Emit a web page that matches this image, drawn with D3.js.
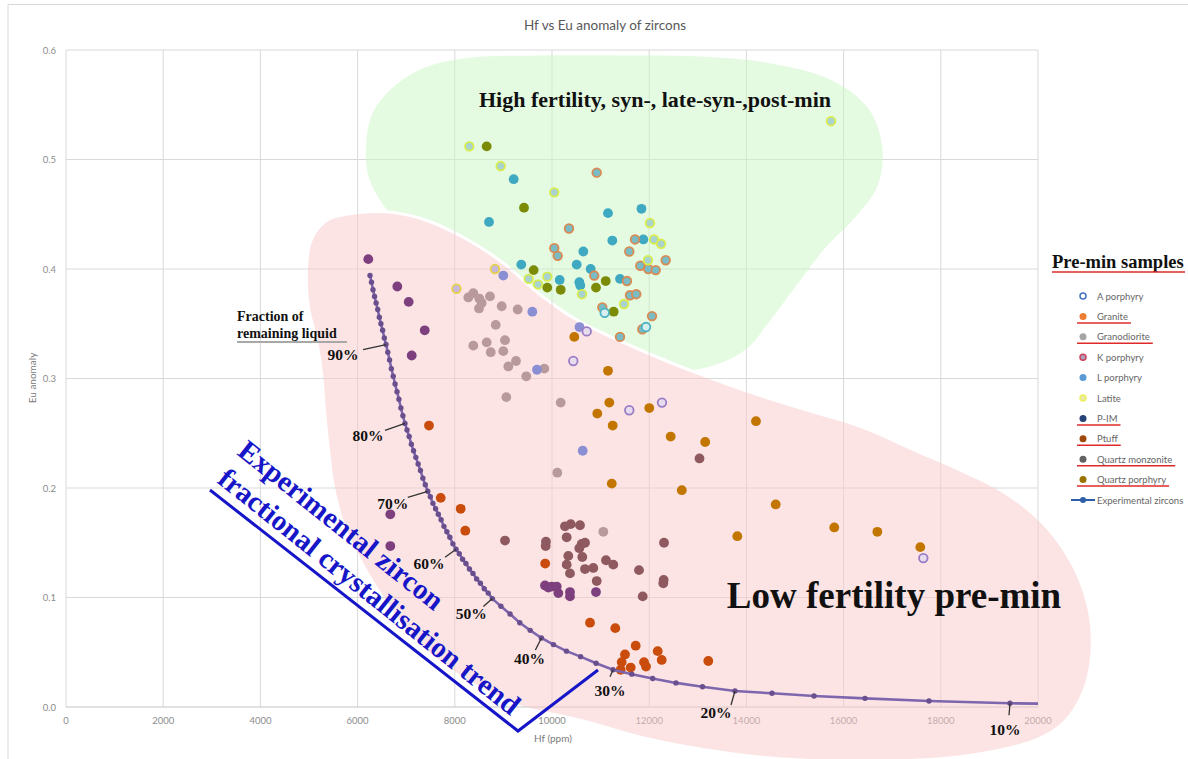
<!DOCTYPE html>
<html>
<head>
<meta charset="utf-8">
<script src="https://cdn.jsdelivr.net/npm/d3@7"></script>
<style>
  body { margin: 0; background: #fff; }
  svg { display: block; }
</style>
</head>
<body>
<svg id="chart" width="1188" height="759"></svg>
<script>
// ---------------- axes ----------------
const xTicks = [0, 2000, 4000, 6000, 8000, 10000, 12000, 14000, 16000, 18000, 20000];
const yTicks = [0, 0.1, 0.2, 0.3, 0.4, 0.5, 0.6];

// ---------------- zircon analyses: Hf (ppm) and Eu anomaly ----------------
// high-fertility field (syn-, late-syn-, post-mineralisation)
const latiteSynHf = [8298, 8944, 10047, 12016, 12099, 12243, 11975, 9520, 9903, 9712, 10617, 11481, 15741];
const latiteSynEu = [0.512, 0.494, 0.470, 0.442, 0.427, 0.423, 0.408, 0.391, 0.393, 0.386, 0.377, 0.368, 0.535];

const lPorphyrySynHf = [9212, 8704, 11152, 11841, 11241, 11879, 10644, 9368, 10508, 10158, 10796, 10562, 10582, 11399];
const lPorphyrySynEu = [0.482, 0.443, 0.451, 0.455, 0.426, 0.427, 0.416, 0.404, 0.404, 0.390, 0.400, 0.388, 0.385, 0.391];

const kPorphyryHf = [10920, 10350, 11708, 10047, 10117, 11590, 12339, 11817, 11981, 12134, 10870, 11543, 11605, 11734, 11035, 12058, 11858, 11399];
const kPorphyryEu = [0.488, 0.437, 0.427, 0.419, 0.412, 0.416, 0.408, 0.403, 0.400, 0.399, 0.394, 0.389, 0.376, 0.377, 0.365, 0.357, 0.345, 0.338];

const aPorphyrySynHf = [11084, 11934];
const aPorphyrySynEu = [0.360, 0.347];

const qPorphyrySynHf = [8656, 9424, 9623, 9903, 10179, 11105, 10905, 11269];
const qPorphyrySynEu = [0.512, 0.456, 0.399, 0.383, 0.381, 0.389, 0.383, 0.361];

// low-fertility field (pre-mineralisation)
const latitePreHf = [8827, 8035];
const latitePreEu = [0.400, 0.382];

const lPorphyryPreHf = [8998, 9595, 9691, 10632, 10566];
const lPorphyryPreEu = [0.394, 0.361, 0.308, 0.234, 0.347];

const aPorphyryPreHf = [10714, 10438, 11590, 12263, 17640];
const aPorphyryPreEu = [0.343, 0.316, 0.271, 0.278, 0.136];

const qPorphyryPreHf = [10459, 11152, 11179, 10932, 12002, 11249, 12442, 13152, 14197, 11230, 12671, 14603, 13813, 15808, 16694, 17578];
const qPorphyryPreEu = [0.338, 0.307, 0.278, 0.268, 0.273, 0.257, 0.247, 0.242, 0.261, 0.204, 0.198, 0.185, 0.156, 0.164, 0.160, 0.146];

const qMonzoniteHf = [13035, 9033, 10267, 10385, 10576, 10302, 9876, 9870, 10611, 10679, 10562, 10335, 10623, 10302, 10370, 10679, 10850, 11111, 11261, 10920, 11790, 12305, 12290, 12298, 11866];
const qMonzoniteEu = [0.227, 0.152, 0.165, 0.167, 0.166, 0.155, 0.151, 0.147, 0.149, 0.150, 0.145, 0.138, 0.137, 0.130, 0.122, 0.126, 0.127, 0.134, 0.130, 0.115, 0.125, 0.150, 0.113, 0.116, 0.101];

const pimHf = [6220, 6817, 7051, 7381, 7113, 6673, 6673, 9856, 9994, 10097, 10130, 9924, 10370, 10370, 10905];
const pimEu = [0.409, 0.384, 0.370, 0.344, 0.321, 0.176, 0.147, 0.111, 0.110, 0.110, 0.104, 0.109, 0.105, 0.101, 0.105];

const ptuffHf = [7469, 7710, 8121, 8216, 9860, 10782, 11302, 11722, 12175, 12257, 11502, 11434, 11619, 11414, 11893, 11934, 13216];
const ptuffEu = [0.257, 0.191, 0.181, 0.161, 0.131, 0.077, 0.072, 0.056, 0.051, 0.043, 0.048, 0.041, 0.036, 0.034, 0.041, 0.037, 0.042];

const granodioriteHf = [8278, 8381, 8504, 8724, 8553, 8498, 8965, 9294, 8842, 8381, 8656, 9033, 8739, 8998, 9259, 9101, 9842, 9471, 9060, 10179, 10109, 11056];
const granodioriteEu = [0.374, 0.378, 0.373, 0.375, 0.369, 0.364, 0.366, 0.363, 0.349, 0.330, 0.333, 0.335, 0.324, 0.325, 0.316, 0.311, 0.309, 0.302, 0.283, 0.278, 0.214, 0.160];

// ---------------- experimental zircon fractional crystallisation ----------------
// fraction of remaining liquid (%), melt Hf (ppm), zircon Eu anomaly
const expFraction = [100, 99, 98, 97, 96, 95, 94, 93, 92, 91, 90, 89, 88, 87, 86, 85, 84, 83, 82, 81, 80,
  79, 78, 77, 76, 75, 74, 73, 72, 71, 70, 69, 68, 67, 66, 65, 64, 63, 62, 61, 60,
  59, 58, 57, 56, 55, 54, 53, 52, 51, 50, 48, 46, 44, 42, 40, 38, 36, 34, 32, 30,
  28, 26, 24, 22, 20, 18, 16, 14, 12, 10, 8];
const expHf = [6255, 6286, 6317, 6349, 6381, 6414, 6447, 6480, 6515, 6550, 6585, 6621, 6658, 6695, 6733, 6771, 6811, 6850, 6891, 6932, 6975,
  7017, 7061, 7106, 7151, 7198, 7245, 7293, 7343, 7393, 7444, 7497, 7550, 7605, 7661, 7718, 7777, 7837, 7898, 7961, 8026,
  8092, 8160, 8229, 8301, 8374, 8449, 8527, 8606, 8688, 8773, 8949, 9137, 9337, 9552, 9782, 10030, 10298, 10589, 10907, 11256,
  11642, 12071, 12551, 13096, 13765, 14527, 15391, 16440, 17757, 19424, 21600];
const expEu = [0.394, 0.388, 0.381, 0.375, 0.369, 0.363, 0.356, 0.350, 0.344, 0.337, 0.331, 0.324, 0.317, 0.309, 0.302, 0.295, 0.288, 0.281, 0.273, 0.266, 0.259,
  0.253, 0.247, 0.240, 0.234, 0.228, 0.222, 0.216, 0.209, 0.203, 0.197, 0.192, 0.186, 0.181, 0.176, 0.171, 0.165, 0.160, 0.155, 0.149, 0.144,
  0.140, 0.135, 0.131, 0.126, 0.122, 0.117, 0.113, 0.108, 0.104, 0.099, 0.092, 0.085, 0.077, 0.070, 0.063, 0.057, 0.051, 0.046, 0.040, 0.034,
  0.030, 0.026, 0.022, 0.0185, 0.0146, 0.0125, 0.0100, 0.0079, 0.0055, 0.0034, 0.0022];

// labelled fractions along the trend
const fractionMarks = [90, 80, 70, 60, 50, 40, 30, 20, 10];

// ---------------- interpretive fields (Hf, Eu) ----------------
const greenFieldHf = [6173, 6296, 6708, 7387, 8313, 9753, 11399, 13045, 14486, 15720, 16502, 16790, 16708, 16234, 15617, 15062, 14486, 13971, 13251, 12428, 11605, 10885, 10165, 9342, 8518, 7695, 6975, 6502, 6235];
const greenFieldEu = [0.509, 0.541, 0.565, 0.584, 0.593, 0.595, 0.595, 0.594, 0.588, 0.573, 0.547, 0.513, 0.477, 0.447, 0.419, 0.387, 0.353, 0.326, 0.311, 0.306, 0.308, 0.317, 0.335, 0.363, 0.390, 0.416, 0.437, 0.460, 0.483];
const pinkFieldHf = [5844, 6564, 7284, 8107, 8930, 9753, 10473, 11193, 12222, 13251, 14280, 15308, 16337, 17366, 18395, 19321, 20144, 20761, 21070, 20988, 20576, 20041, 19218, 17983, 16337, 14691, 13045, 11811, 10782, 10103, 9403, 8724, 8025, 7304, 6625, 6090, 5761, 5535, 5432, 5350, 5288, 5185, 5021, 4979, 5082, 5370];
const pinkFieldEu = [0.449, 0.451, 0.445, 0.429, 0.406, 0.375, 0.353, 0.337, 0.317, 0.299, 0.283, 0.269, 0.255, 0.235, 0.215, 0.194, 0.164, 0.123, 0.075, 0.025, -0.010, -0.027, -0.038, -0.046, -0.048, -0.046, -0.037, -0.026, -0.013, -0.006, 0.001, 0.014, 0.032, 0.057, 0.095, 0.134, 0.164, 0.201, 0.235, 0.271, 0.305, 0.335, 0.365, 0.399, 0.427, 0.443];

// ---------------- legend ----------------
const legendNames = ["A porphyry", "Granite", "Granodiorite", "K porphyry", "L porphyry", "Latite", "P-IM", "Ptuff", "Quartz monzonite", "Quartz porphyry", "Experimental zircons"];
const legendUnderlined = [false, true, true, false, false, false, true, true, true, true, false];

// ====================================================================
const svg = d3.select("#chart");
const W = 1188, H = 759;
const x = d3.scaleLinear().domain([0, 20000]).range([66, 1038]);
const y = d3.scaleLinear().domain([0, 0.6]).range([707, 50]);
const sans = "Lato, 'Open Sans', 'Liberation Sans', sans-serif";
const serif = "'Liberation Serif', 'DejaVu Serif', serif";

// chart frame
svg.append("path").attr("d", `M8,${H} V4.5 H${W}`).attr("fill", "none").attr("stroke", "#d9d9d9").attr("stroke-width", 1);

// title
svg.append("text").attr("x", 605).attr("y", 30).attr("text-anchor", "middle")
  .attr("font-family", sans).attr("font-size", 13.5).attr("fill", "#595959")
  .text("Hf vs Eu anomaly of zircons");

// gridlines
const grid = svg.append("g");
grid.selectAll(".vg").data(xTicks).join("line")
  .attr("x1", d => x(d)).attr("x2", d => x(d)).attr("y1", y(0.6)).attr("y2", y(0))
  .attr("stroke", "#d9d9d9").attr("stroke-width", 1);
grid.selectAll(".hg").data(yTicks).join("line")
  .attr("x1", x(0)).attr("x2", x(20000)).attr("y1", d => y(d)).attr("y2", d => y(d))
  .attr("stroke", d => d === 0 ? "#c4c4c4" : "#d9d9d9").attr("stroke-width", 1);

// tick labels
svg.append("g").selectAll("text").data(xTicks).join("text")
  .attr("x", d => x(d)).attr("y", 724).attr("text-anchor", "middle")
  .attr("font-family", sans).attr("font-size", 9.5).attr("fill", "#8c8c8c")
  .text(d => d);
svg.append("g").selectAll("text").data(yTicks).join("text")
  .attr("x", 56).attr("y", d => y(d) + 3.5).attr("text-anchor", "end")
  .attr("font-family", sans).attr("font-size", 9.5).attr("fill", "#8c8c8c")
  .text(d => d3.format(".1f")(d));

// axis titles
svg.append("text").attr("x", 553).attr("y", 742).attr("text-anchor", "middle")
  .attr("font-family", sans).attr("font-size", 10).attr("fill", "#7a7a7a").text("Hf (ppm)");
svg.append("text").attr("transform", "translate(36,378) rotate(-90)").attr("text-anchor", "middle")
  .attr("font-family", sans).attr("font-size", 10).attr("fill", "#7a7a7a").text("Eu anomaly");

// interpretive fields
const fieldLine = d3.line().x(d => x(d[0])).y(d => y(d[1])).curve(d3.curveCatmullRomClosed.alpha(0.5));
const pinkPts = pinkFieldHf.map((h, i) => [h, pinkFieldEu[i]]);
const greenPts = greenFieldHf.map((h, i) => [h, greenFieldEu[i]]);
const defs = svg.append("defs");
const mask = defs.append("mask").attr("id", "outsidePink").attr("maskUnits", "userSpaceOnUse")
  .attr("x", 0).attr("y", 0).attr("width", W).attr("height", H);
mask.append("rect").attr("width", W).attr("height", H).attr("fill", "#fff");
mask.append("path").attr("d", fieldLine(pinkPts)).attr("fill", "#000").attr("stroke", "#000").attr("stroke-width", 6);

svg.append("path").attr("d", fieldLine(greenPts)).attr("fill", "#c9f7c3").attr("fill-opacity", 0.5)
  .attr("mask", "url(#outsidePink)");
svg.append("path").attr("d", fieldLine(pinkPts)).attr("fill", "#f9c9c9").attr("fill-opacity", 0.5);

// field names
svg.append("text").attr("x", 655).attr("y", 107).attr("text-anchor", "middle")
  .attr("font-family", serif).attr("font-weight", "bold").attr("font-size", 22).attr("fill", "#111")
  .text("High fertility, syn-, late-syn-,post-min");
svg.append("text").attr("x", 894).attr("y", 608).attr("text-anchor", "middle")
  .attr("font-family", serif).attr("font-weight", "bold").attr("font-size", 37).attr("fill", "#111")
  .text("Low fertility pre-min");

// scatter series, drawn in field order
const series = [
  { hf: granodioriteHf, eu: granodioriteEu, fill: "#b99a9c" },
  { hf: qMonzoniteHf, eu: qMonzoniteEu, fill: "#8e5a60" },
  { hf: pimHf, eu: pimEu, fill: "#7d3f7e" },
  { hf: ptuffHf, eu: ptuffEu, fill: "#c94c0c" },
  { hf: qPorphyryPreHf, eu: qPorphyryPreEu, fill: "#c27600" },
  { hf: lPorphyryPreHf, eu: lPorphyryPreEu, fill: "#8a8ed2" },
  { hf: aPorphyryPreHf, eu: aPorphyryPreEu, fill: "#e6dcee", stroke: "#9a7cc6" },
  { hf: latitePreHf, eu: latitePreEu, fill: "#c8b8da", stroke: "#e6d24a" },
  { hf: qPorphyrySynHf, eu: qPorphyrySynEu, fill: "#7b8b06" },
  { hf: lPorphyrySynHf, eu: lPorphyrySynEu, fill: "#3fa9c2" },
  { hf: kPorphyryHf, eu: kPorphyryEu, fill: "#78bdc6", stroke: "#d98a52" },
  { hf: aPorphyrySynHf, eu: aPorphyrySynEu, fill: "#d6efee", stroke: "#4fb2c4" },
  { hf: latiteSynHf, eu: latiteSynEu, fill: "#a9d3cf", stroke: "#d9ec4c" }
];
const pts = svg.append("g");
series.forEach(s => {
  pts.append("g").selectAll("circle").data(s.hf.map((h, i) => [h, s.eu[i]])).join("circle")
    .attr("cx", d => x(d[0])).attr("cy", d => y(d[1]))
    .attr("r", s.stroke ? 4.3 : 4.9)
    .attr("fill", s.fill)
    .attr("stroke", s.stroke || "none").attr("stroke-width", s.stroke ? 1.8 : 0);
});

// experimental trend
defs.append("clipPath").attr("id", "plotClip").append("rect")
  .attr("x", x(0)).attr("y", y(0.6)).attr("width", x(20000) - x(0)).attr("height", y(0) - y(0.6));
const exp = expHf.map((h, i) => ({ f: expFraction[i], hf: h, eu: expEu[i] }));
const trend = svg.append("g").attr("clip-path", "url(#plotClip)");
trend.append("path").attr("d", d3.line().x(d => x(d.hf)).y(d => y(d.eu))(exp))
  .attr("fill", "none").attr("stroke", "#7d66ae").attr("stroke-width", 2.6);
trend.selectAll("circle").data(exp).join("circle")
  .attr("cx", d => x(d.hf)).attr("cy", d => y(d.eu)).attr("r", 2.7).attr("fill", "#6a4f8e");

// fraction-of-liquid call-outs: [label dx, label dy, leader dx, leader dy] from the trend point
const calloutOffsets = [[-43, 10, -23, 5], [-37, 12, -20, 7], [-35, 12, -20, 6], [-27, 14, -11, 8], [-21, 15, -9, 8],
  [-12, 20, -6, 12], [-3, 21, -3, 7], [-19, 21, -4, 14], [-5, 26, -1, 12]];
const callouts = svg.append("g");
fractionMarks.forEach((f, i) => {
  const p = exp.find(d => d.f === f);
  const px = x(p.hf), py = y(p.eu);
  const o = calloutOffsets[i];
  callouts.append("line").attr("x1", px).attr("y1", py).attr("x2", px + o[2]).attr("y2", py + o[3])
    .attr("stroke", "#333").attr("stroke-width", 1.3);
  callouts.append("text").attr("x", px + o[0]).attr("y", py + o[1] + 5.5).attr("text-anchor", "middle")
    .attr("font-family", serif).attr("font-weight", "bold").attr("font-size", 15.5).attr("fill", "#111")
    .text(f + "%");
});
svg.append("text").attr("x", 237).attr("y", 321)
  .attr("font-family", serif).attr("font-weight", "bold").attr("font-size", 14).attr("fill", "#111")
  .text("Fraction of");
svg.append("text").attr("x", 237).attr("y", 338)
  .attr("font-family", serif).attr("font-weight", "bold").attr("font-size", 14).attr("fill", "#111")
  .text("remaining liquid");
svg.append("line").attr("x1", 237).attr("x2", 347).attr("y1", 342).attr("y2", 342)
  .attr("stroke", "#a8a8a8").attr("stroke-width", 2);

// trend caption and bracket
const blue = "#1616c8";
const ang = 38.5;
svg.append("text").attr("transform", `translate(236,454) rotate(${ang})`)
  .attr("font-family", serif).attr("font-weight", "bold").attr("font-size", 29).attr("fill", blue)
  .text("Experimental zircon");
svg.append("text").attr("transform", `translate(216,482) rotate(${ang})`)
  .attr("font-family", serif).attr("font-weight", "bold").attr("font-size", 29).attr("fill", blue)
  .text("fractional crystallisation trend");
svg.append("path").attr("d", "M210,490 L518,731 L598,670").attr("fill", "none")
  .attr("stroke", blue).attr("stroke-width", 3);

// legend
const lg = svg.append("g");
lg.append("text").attr("x", 1052).attr("y", 268)
  .attr("font-family", serif).attr("font-weight", "bold").attr("font-size", 18.5).attr("fill", "#111")
  .text("Pre-min samples");
lg.append("line").attr("x1", 1052).attr("x2", 1185).attr("y1", 272).attr("y2", 272)
  .attr("stroke", "#e02a2a").attr("stroke-width", 1.6);
const swatches = [
  { fill: "#ffffff", stroke: "#4472c4" },
  { fill: "#ed7d31" },
  { fill: "#a5a5a5" },
  { fill: "#a7a3bd", stroke: "#d2405a" },
  { fill: "#5b9bd5" },
  { fill: "#e8e8a8", stroke: "#eef060" },
  { fill: "#264478" },
  { fill: "#9e480e" },
  { fill: "#636363" },
  { fill: "#997300" },
  { line: "#2f5ea8" }
];
legendNames.forEach((name, i) => {
  const ly = 296 + i * 20.4;
  const s = swatches[i];
  if (s.line) {
    lg.append("line").attr("x1", 1071).attr("x2", 1095).attr("y1", ly).attr("y2", ly)
      .attr("stroke", s.line).attr("stroke-width", 2);
    lg.append("circle").attr("cx", 1083).attr("cy", ly).attr("r", 3).attr("fill", s.line);
  } else {
    lg.append("circle").attr("cx", 1083).attr("cy", ly).attr("r", s.stroke ? 3 : 3.5)
      .attr("fill", s.fill).attr("stroke", s.stroke || "none").attr("stroke-width", s.stroke ? 1.5 : 0);
  }
  const t = lg.append("text").attr("x", 1097).attr("y", ly + 3.5)
    .attr("font-family", sans).attr("font-size", 9.5).attr("fill", "#666").text(name);
  if (legendUnderlined[i]) {
    const w = t.node().getComputedTextLength();
    lg.append("line").attr("x1", 1077).attr("x2", 1097 + w + 3).attr("y1", ly + 6.5).attr("y2", ly + 6.5)
      .attr("stroke", "#e02a2a").attr("stroke-width", 1.5);
  }
});
</script>
</body>
</html>
